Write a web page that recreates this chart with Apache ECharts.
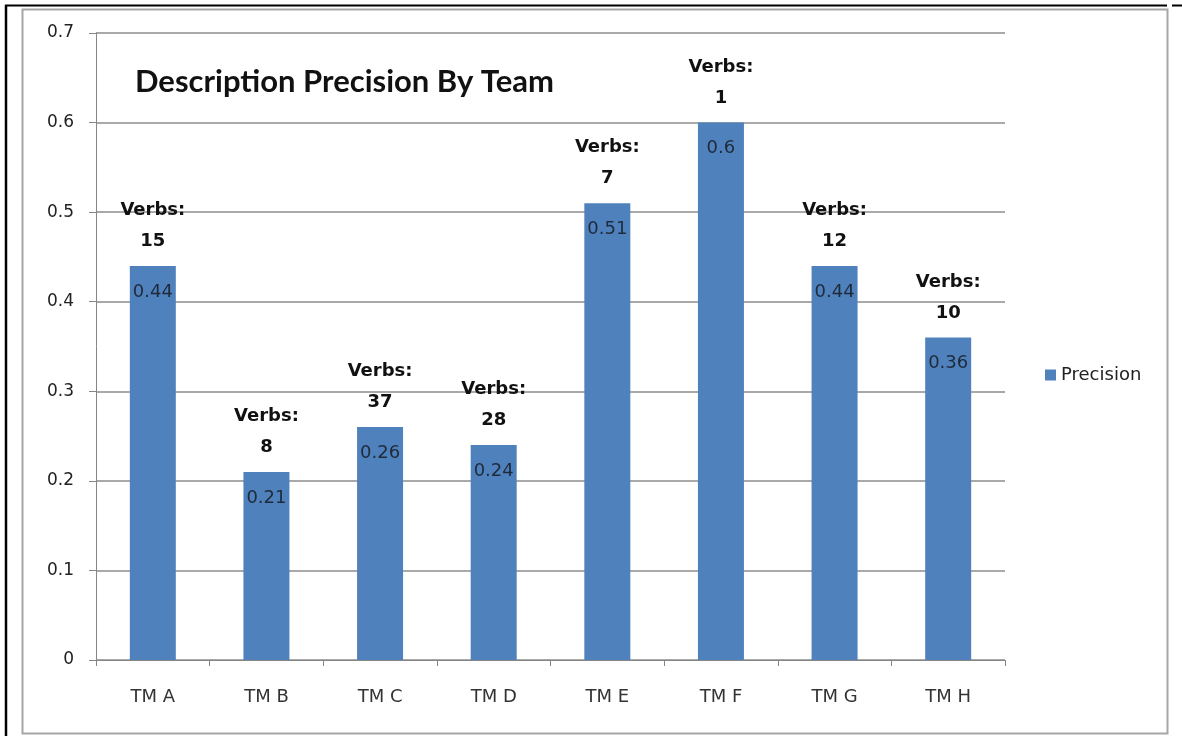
<!DOCTYPE html>
<html>
<head>
<meta charset="utf-8">
<script src="https://cdn.jsdelivr.net/npm/echarts@6/dist/echarts.min.js"></script>
<style>
html,body{margin:0;padding:0;background:#fff;}
#c{width:1182px;height:736px;}
</style>
</head>
<body>
<div id="c"></div>
<script>
var categories = ['TM A','TM B','TM C','TM D','TM E','TM F','TM G','TM H'];
var precision = [0.44, 0.21, 0.26, 0.24, 0.51, 0.6, 0.44, 0.36];
var verbs = [15, 8, 37, 28, 7, 1, 12, 10];
var yTicks = [0, 0.1, 0.2, 0.3, 0.4, 0.5, 0.6, 0.7];

var chart = echarts.init(document.getElementById('c'), null, {renderer: 'canvas'});
var font = '"DejaVu Sans", "Open Sans", sans-serif';
chart.setOption({
  animation: false,
  backgroundColor: '#fff',
  title: {
    text: 'Description Precision By Team',
    left: 130, top: 61,
    textStyle: {fontFamily: 'Lato, sans-serif', fontSize: 31, fontWeight: 'bold', color: '#111'}
  },
  legend: {
    data: ['Precision'],
    left: 1040, top: 361,
    itemWidth: 11, itemHeight: 11,
    icon: 'rect',
    itemGap: 6,
    textStyle: {fontFamily: font, fontSize: 18, color: '#222'}
  },
  grid: {left: 96, right: 177, top: 33, bottom: 76, containLabel: false},
  xAxis: {
    type: 'category',
    data: categories,
    axisLine: {lineStyle: {color: '#868686', width: 1}},
    axisTick: {show: true, length: 6, alignWithLabel: false, lineStyle: {color: '#868686'}},
    axisLabel: {fontFamily: font, fontSize: 18, color: '#333', margin: 28}
  },
  yAxis: {
    type: 'value',
    min: 0, max: 0.7, interval: 0.1,
    axisLine: {show: true, lineStyle: {color: '#868686', width: 1}},
    axisTick: {show: true, length: 7, lineStyle: {color: '#868686'}},
    splitLine: {lineStyle: {color: '#8c8c8c', width: 1.5}},
    axisLabel: {
      fontFamily: font, fontSize: 17, color: '#222', margin: 22,
      formatter: function (v) { var r = Math.round(v * 10) / 10; return yTicks.indexOf(r) >= 0 ? String(r) : ''; }
    }
  },
  series: [
    {
      name: 'Precision',
      type: 'bar',
      data: precision,
      barWidth: 46,
      itemStyle: {color: '#4F81BD'},
      label: {
        show: true, position: 'insideTop', distance: 17,
        fontFamily: font, fontSize: 18, color: '#1f2a3a'
      }
    },
    {
      name: 'Verbs',
      type: 'bar',
      data: precision,
      barWidth: 46,
      barGap: '-100%',
      silent: true,
      itemStyle: {color: 'rgba(0,0,0,0)'},
      label: {
        show: true, position: 'top', distance: 9,
        fontFamily: font, fontSize: 18, fontWeight: 'bold', color: '#111', lineHeight: 31,
        formatter: function (p) { return 'Verbs:\n' + verbs[p.dataIndex]; }
      }
    }
  ],
  graphic: [
    {type: 'line', shape: {x1: 5, y1: 5.5, x2: 1167, y2: 5.5}, style: {stroke: '#000', lineWidth: 2}},
    {type: 'line', shape: {x1: 1172, y1: 5.5, x2: 1182, y2: 5.5}, style: {stroke: '#000', lineWidth: 2}},
    {type: 'line', shape: {x1: 6, y1: 5, x2: 6, y2: 736}, style: {stroke: '#000', lineWidth: 2.5}},
    {type: 'rect', shape: {x: 22.5, y: 9.5, width: 1145, height: 724}, style: {fill: 'none', stroke: '#a6a6a6', lineWidth: 2}}
  ]
});
</script>
</body>
</html>
